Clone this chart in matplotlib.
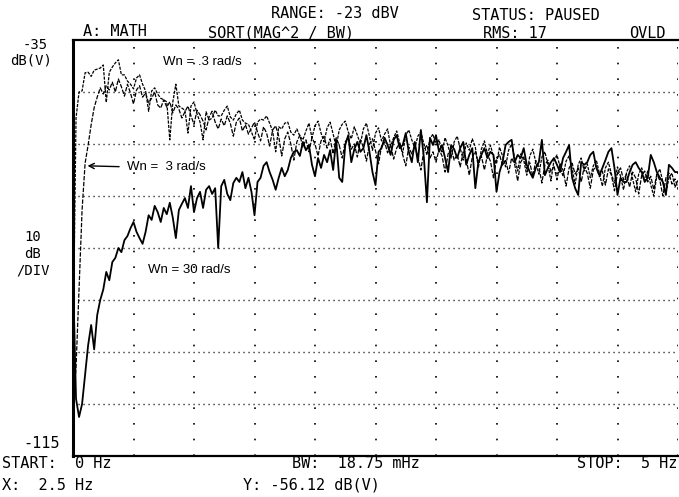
import matplotlib
matplotlib.use("Agg")
import matplotlib.pyplot as plt
import numpy as np

# analyzer bins: 0 .. 5 Hz, read every 0.025 Hz off the trace
freq_step = 0.025

# Wn = 30 rad/s (solid trace), dB(V)
wn30 = [
    -80.0, -104.0, -107.5, -105.0, -99.4, -93.7, -89.8, -94.5, -87.9, -85.0,
    -83.0, -79.6, -81.2, -77.7, -76.9, -75.0, -75.8, -73.5, -72.7, -71.2,
    -70.0, -71.9, -73.1, -74.2, -71.9, -68.7, -69.6, -66.9, -68.1, -70.0,
    -67.3, -68.5, -66.3, -69.2, -73.1, -67.7, -66.5, -65.4, -67.3, -63.1,
    -68.1, -65.4, -64.2, -67.3, -63.8, -63.1, -64.6, -63.5, -75.0, -63.1,
    -61.9, -64.6, -65.8, -62.5, -61.5, -62.3, -60.4, -63.5, -61.5, -64.2,
    -68.7, -62.3, -61.5, -59.2, -58.5, -60.4, -61.9, -63.8, -61.5, -59.6,
    -61.2, -60.0, -57.7, -56.5, -56.2, -57.3, -54.6, -56.2, -55.2, -59.0,
    -61.2, -57.7, -59.6, -57.1, -58.5, -56.2, -60.0, -54.2, -61.5, -62.3,
    -55.2, -53.3, -58.5, -56.0, -54.6, -56.5, -55.8, -53.3, -56.5, -60.4,
    -62.9, -56.5, -55.8, -53.8, -55.2, -57.1, -54.2, -53.3, -55.8, -55.2,
    -52.9, -56.5, -58.5, -54.6, -58.5, -52.3, -57.7, -66.2, -53.8, -55.2,
    -53.3, -56.5, -55.2, -57.7, -60.4, -55.2, -56.0, -57.7, -55.8, -54.6,
    -59.0, -57.1, -55.8, -63.5, -58.5, -57.1, -55.8, -57.7, -56.5, -57.1,
    -64.2, -60.4, -58.5, -55.2, -54.6, -54.2, -58.5, -57.1, -57.7, -55.8,
    -59.0, -60.4, -61.5, -59.6, -58.5, -54.2, -61.0, -59.6, -58.5, -57.7,
    -59.0, -60.4, -57.7, -56.5, -55.2, -61.5, -63.5, -64.8, -58.5, -59.0,
    -58.5, -57.1, -56.5, -59.6, -61.0, -59.6, -58.1, -56.5, -55.8, -59.6,
    -64.8, -61.5, -62.3, -62.3, -60.4, -59.0, -58.5, -59.6, -60.4, -62.3,
    -61.5, -57.1, -58.5, -60.4, -61.5, -62.3, -64.8, -59.0, -59.6, -60.4,
    -60.4,
]

# Wn = 3 rad/s
wn3 = [
    -106.0, -98.0, -83.0, -67.7, -58.7, -55.2, -51.3, -48.0, -46.0, -44.2,
    -45.4, -43.8, -44.6, -43.1, -45.0, -42.5, -44.0, -45.8, -43.5, -45.2,
    -47.3, -44.6, -43.8, -46.0, -45.2, -47.1, -46.2, -45.0, -47.5, -48.1,
    -46.5, -47.9, -46.9, -49.0, -47.5, -48.3, -50.0, -48.8, -47.7, -49.6,
    -51.2, -48.5, -49.4, -50.6, -52.3, -49.8, -48.7, -50.8, -52.1, -50.2,
    -51.5, -49.6, -51.0, -53.5, -50.8, -50.0, -52.5, -51.3, -53.1, -51.9,
    -50.8, -52.7, -54.4, -51.7, -52.9, -55.4, -52.3, -51.5, -53.5, -57.3,
    -54.0, -52.7, -55.0, -58.1, -54.6, -53.3, -55.6, -54.2, -56.5, -53.8,
    -55.0, -57.3, -54.4, -53.5, -55.8, -54.0, -56.9, -53.8, -55.2, -57.7,
    -54.6, -53.7, -56.0, -55.0, -57.5, -54.2, -55.6, -58.3, -55.0, -54.0,
    -56.3, -58.8, -55.4, -54.6, -56.7, -55.2, -57.9, -55.8, -54.8, -57.1,
    -59.2, -55.6, -56.9, -55.4, -57.5, -60.0, -56.2, -55.2, -57.7, -56.5,
    -58.5, -56.0, -57.3, -60.4, -56.9, -55.8, -58.1, -57.0, -59.4, -56.5,
    -57.9, -61.0, -57.5, -56.4, -58.7, -57.3, -60.0, -57.1, -58.3, -61.5,
    -57.9, -57.0, -59.2, -58.0, -60.6, -57.7, -58.9, -62.1, -58.5, -57.5,
    -59.8, -58.6, -61.2, -58.2, -59.4, -62.5, -59.0, -58.1, -60.4, -59.2,
    -61.9, -58.8, -60.0, -63.1, -59.6, -58.7, -60.8, -59.6, -62.3, -59.4,
    -60.6, -63.5, -60.0, -59.2, -61.3, -60.2, -62.9, -59.8, -61.0, -64.0,
    -60.6, -59.6, -61.9, -60.8, -63.3, -60.4, -61.5, -64.6, -61.0, -60.2,
    -62.3, -61.2, -63.8, -60.8, -62.0, -65.0, -61.5, -60.6, -62.7, -61.7,
    -63.5,
]

# Wn = .3 rad/s
wn03 = [
    -95.0, -50.0, -45.0, -44.8, -41.3, -41.2, -42.0, -40.8, -40.6, -40.4,
    -39.8, -47.0, -41.2, -40.2, -39.4, -38.8, -41.7, -41.7, -42.9, -43.5,
    -44.4, -42.3, -41.7, -43.5, -44.8, -48.7, -44.8, -44.2, -45.4, -46.2,
    -46.5, -46.9, -54.2, -46.9, -43.5, -47.7, -48.1, -48.5, -52.9, -47.7,
    -46.9, -49.2, -50.8, -54.2, -48.8, -50.4, -50.0, -48.5, -49.6, -49.6,
    -48.5, -47.7, -49.8, -50.4, -49.2, -48.5, -50.4, -51.0, -51.2, -52.7,
    -54.2, -50.8, -50.2, -50.4, -49.6, -51.0, -52.5, -56.5, -51.7, -52.1,
    -51.0, -50.8, -52.7, -53.3, -52.1, -53.5, -54.2, -52.5, -51.0, -53.8,
    -51.5, -50.6, -52.9, -54.6, -51.9, -50.8, -53.1, -55.6, -52.3, -51.2,
    -50.6, -52.7, -54.0, -51.7, -53.3, -55.0, -52.1, -51.0, -53.5, -56.2,
    -52.9, -51.9, -54.4, -53.1, -52.1, -55.4, -53.8, -52.5, -54.8, -56.7,
    -53.3, -52.3, -54.2, -55.8, -53.5, -52.7, -55.0, -57.1, -54.0, -53.1,
    -55.2, -54.2, -56.5, -53.8, -55.4, -57.7, -54.6, -53.5, -55.8, -58.1,
    -54.8, -56.2, -54.0, -55.6, -59.6, -56.0, -54.4, -56.9, -55.2, -57.5,
    -58.8, -55.6, -57.3, -59.4, -56.2, -55.0, -57.7, -60.2, -56.9, -58.1,
    -61.0, -57.3, -56.0, -58.5, -60.8, -57.5, -56.5, -59.0, -62.1, -58.1,
    -57.1, -59.4, -61.2, -58.3, -57.3, -59.8, -62.7, -59.0, -57.7, -60.2,
    -58.8, -61.5, -59.2, -58.1, -60.6, -63.1, -59.6, -58.5, -60.8, -62.5,
    -59.4, -61.2, -63.8, -60.4, -59.2, -61.7, -64.2, -60.8, -59.6, -62.1,
    -60.2, -62.9, -65.0, -61.0, -59.8, -62.3, -64.6, -61.5, -60.6, -63.3,
    -61.9,
]

freq = np.arange(len(wn30)) * freq_step

W, H = 679, 497
fig = plt.figure(figsize=(W / 100, H / 100), dpi=100)
fig.patch.set_facecolor("white")

# plot box in pixels: x 73..678, y 40..456
ax = fig.add_axes([73 / W, 1 - 456 / H, 605 / W, 416 / H])
ax.set_xlim(0, 5)
ax.set_ylim(-115, -35)
ax.set_xticks([])
ax.set_yticks([])
for side, lw in [("left", 2.2), ("bottom", 1.6), ("top", 1.6)]:
    ax.spines[side].set_linewidth(lw)
    ax.spines[side].set_color("black")
ax.spines["right"].set_visible(False)

# dotted graticule
for level in range(-105, -35, 10):
    ax.axhline(level, color="black", lw=1.0, linestyle=(0, (0.8, 2.8)), zorder=1)
for f in np.arange(0.5, 5.01, 0.5):
    ax.axvline(f, color="black", lw=1.2, linestyle=(0, (1.0, 8.4)), zorder=1)

ax.plot(freq, wn03, color="black", lw=0.9, linestyle=(0, (2.5, 1.0)), zorder=3)
ax.plot(freq, wn3, color="black", lw=0.9, linestyle=(0, (3.5, 1.2)), zorder=3)
ax.plot(freq, wn30, color="black", lw=1.3, zorder=4)

# trace labels
lab = dict(family="Liberation Sans", fontsize=9.5, color="black", va="center")
ax.text(0.745, -39.2, "Wn = .3 rad/s", **lab)
ax.text(0.62, -79.2, "Wn = 30 rad/s", **lab)
ax.annotate("Wn =  3 rad/s", xy=(0.12, -59.2), xytext=(0.45, -59.4),
            arrowprops=dict(arrowstyle="->", color="black", lw=1.0,
                            relpos=(0.0, 0.5), shrinkA=4, shrinkB=0),
            **lab)

# instrument annotations
mono = dict(family="DejaVu Sans Mono", color="black", va="center")


def put(x, y, s, ha="left", size=11):
    fig.text(x / W, 1 - y / H, s, ha=ha, fontsize=size, **mono)


put(271, 13, "RANGE: -23 dBV")
put(472, 15, "STATUS: PAUSED")
put(83, 32, "A: MATH")
put(208, 33, "SORT(MAG^2 / BW)")
put(483, 33, "RMS: 17")
put(666, 34, "OVLD", ha="right")
put(48, 45, "-35", ha="right", size=10)
put(52, 61, "dB(V)", ha="right", size=10)
put(41, 237, "10", ha="right", size=10)
put(41, 254, "dB", ha="right", size=10)
put(50, 271, "/DIV", ha="right", size=10)
put(60, 443, "-115", ha="right")
put(2, 464, "START:  0 Hz")
put(2, 485, "X:  2.5 Hz")
put(292, 464, "BW:  18.75 mHz")
put(243, 485, "Y: -56.12 dB(V)")
put(677, 464, "STOP:  5 Hz", ha="right")

fig.savefig("out.png", dpi=100, facecolor="white")
